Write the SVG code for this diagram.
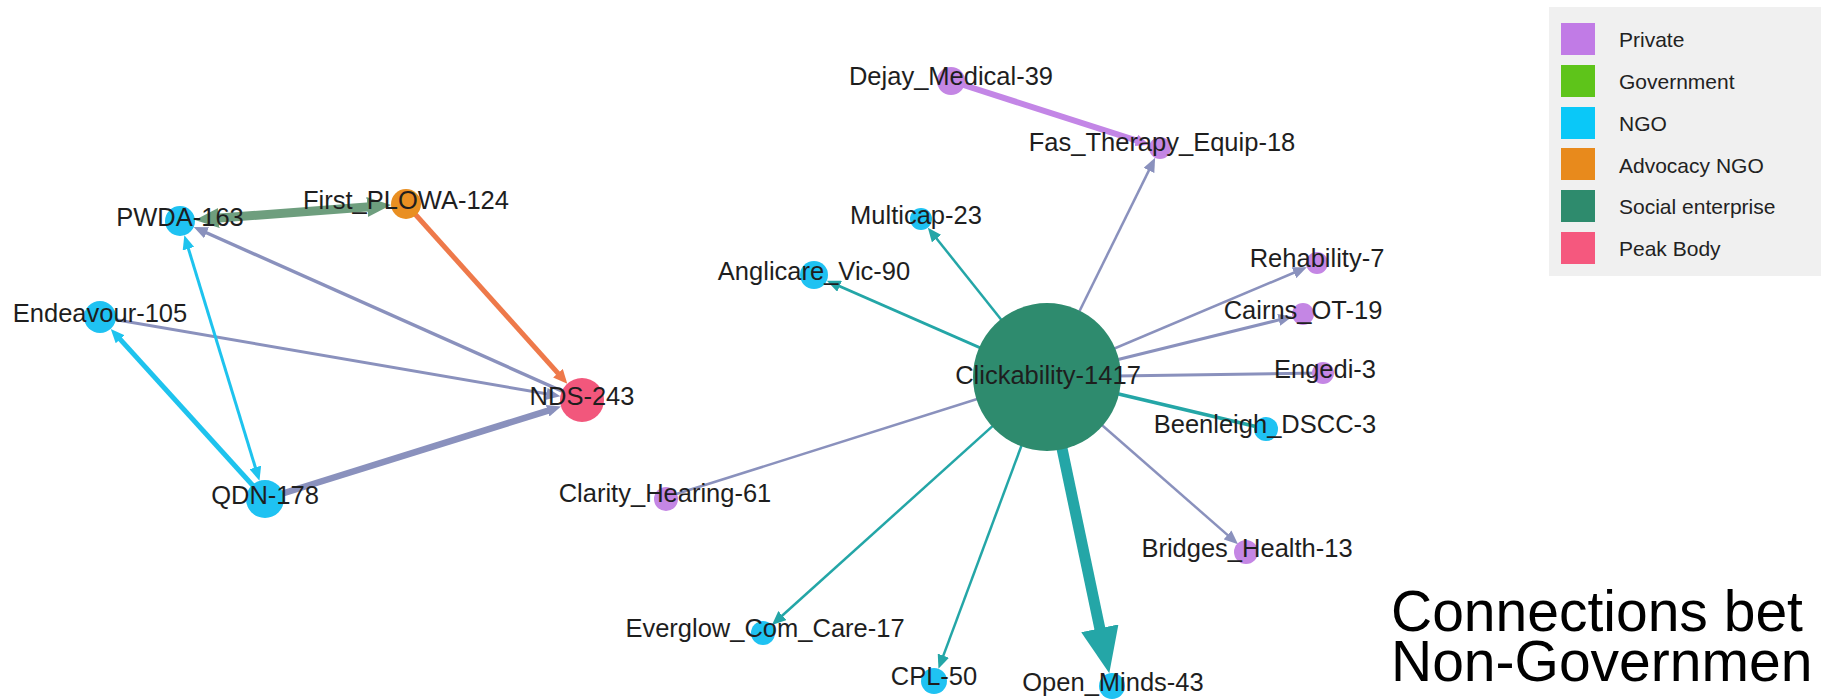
<svg xmlns="http://www.w3.org/2000/svg" width="1821" height="699" viewBox="0 0 1821 699">
<style>
.lbl{font-family:"Liberation Sans",Arial,sans-serif;font-size:25.5px;fill:#1e1e1e;text-anchor:middle}
.leg{font-family:"Liberation Sans",Arial,sans-serif;font-size:21px;fill:#222}
.title{font-family:"Liberation Sans",Arial,sans-serif;font-size:57px;fill:#000}
.e{fill:none;stroke-linecap:butt}
.gray{stroke:#8a91bd}
.teal{stroke:#24a6a7}
.cyan{stroke:#1ec3ee}
.green{stroke:#6e9e7e}
.orange{stroke:#ee794a}
.purple{stroke:#c386e6}
.private{fill:#c486e4}
.ngo{fill:#1fc2f2}
.adv{fill:#e98f22}
.social{fill:#2e8b6e}
.peak{fill:#f2577c}
</style>
<defs>
<marker id="ah-gray" markerUnits="userSpaceOnUse" markerWidth="14" markerHeight="12" refX="5.6" refY="6" orient="auto"><path d="M0,0 L14,6 L0,12 z" fill="#8a91bd"/></marker>
<marker id="ah-teal" markerUnits="userSpaceOnUse" markerWidth="14" markerHeight="12" refX="5.6" refY="6" orient="auto"><path d="M0,0 L14,6 L0,12 z" fill="#24a6a7"/></marker>
<marker id="ah-cyan" markerUnits="userSpaceOnUse" markerWidth="14" markerHeight="12" refX="5.6" refY="6" orient="auto-start-reverse"><path d="M0,0 L14,6 L0,12 z" fill="#1ec3ee"/></marker>
<marker id="ah-orange" markerUnits="userSpaceOnUse" markerWidth="14" markerHeight="13" refX="5.6" refY="6.5" orient="auto"><path d="M0,0 L14,6.5 L0,13 z" fill="#ee794a"/></marker>
<marker id="ah-purple" markerUnits="userSpaceOnUse" markerWidth="14" markerHeight="12" refX="5.6" refY="6" orient="auto"><path d="M0,0 L14,6 L0,12 z" fill="#c386e6"/></marker>
<marker id="ah-green" markerUnits="userSpaceOnUse" markerWidth="24" markerHeight="20" refX="9.6" refY="10" orient="auto-start-reverse"><path d="M0,0 L24,10 L0,20 z" fill="#6e9e7e"/></marker>
<marker id="ah-big" markerUnits="userSpaceOnUse" markerWidth="46" markerHeight="38" refX="18.4" refY="19" orient="auto"><path d="M0,0 L46,19 L0,38 z" fill="#24a6a7"/></marker>
</defs>
<rect width="1821" height="699" fill="#fff"/>

<g id="connectors">
<line class="e purple" stroke-width="6" x1="951" y1="81" x2="1141.5" y2="142.1" marker-end="url(#ah-purple)"/>
<line class="e gray" stroke-width="2.5" x1="1047" y1="377" x2="1151.4" y2="165.4" marker-end="url(#ah-gray)"/>
<line class="e teal" stroke-width="2.5" x1="1047" y1="377" x2="933.1" y2="234.2" marker-end="url(#ah-teal)"/>
<line class="e teal" stroke-width="3" x1="1047" y1="377" x2="834.5" y2="284" marker-end="url(#ah-teal)"/>
<line class="e gray" stroke-width="2.5" x1="1047" y1="377" x2="1299.1" y2="270.5" marker-end="url(#ah-gray)"/>
<line class="e gray" stroke-width="3" x1="1047" y1="377" x2="1284.2" y2="318.6" marker-end="url(#ah-gray)"/>
<line class="e gray" stroke-width="3" x1="1047" y1="377" x2="1320" y2="373"/>
<line class="e teal" stroke-width="3.5" x1="1047" y1="377" x2="1262" y2="428"/>
<line class="e gray" stroke-width="2.5" x1="1047" y1="377" x2="1231.7" y2="538.6" marker-end="url(#ah-gray)"/>
<line class="e gray" stroke-width="2.5" x1="1047" y1="377" x2="670" y2="496"/>
<line class="e teal" stroke-width="2.5" x1="1047" y1="377" x2="778.2" y2="619.3" marker-end="url(#ah-teal)"/>
<line class="e teal" stroke-width="2.5" x1="1047" y1="377" x2="941.4" y2="660.9" marker-end="url(#ah-teal)"/>
<line class="e teal" stroke-width="11" x1="1047" y1="377" x2="1103.6" y2="646.3" marker-end="url(#ah-big)"/>
<line class="e green" stroke-width="9" x1="209.3" y1="218.8" x2="376.7" y2="206.2" marker-start="url(#ah-green)" marker-end="url(#ah-green)"/>
<line class="e orange" stroke-width="5" x1="406" y1="204" x2="561.7" y2="377.4" marker-end="url(#ah-orange)"/>
<line class="e gray" stroke-width="3.5" x1="582" y1="400" x2="201.4" y2="230.5" marker-end="url(#ah-gray)"/>
<line class="e gray" stroke-width="3" x1="100" y1="317" x2="552.1" y2="394.8" marker-end="url(#ah-gray)"/>
<line class="e gray" stroke-width="6.5" x1="265" y1="499" x2="553" y2="409.1" marker-end="url(#ah-gray)"/>
<line class="e cyan" stroke-width="5" x1="265" y1="499" x2="116.4" y2="335.1" marker-end="url(#ah-cyan)"/>
<line class="e cyan" stroke-width="3" x1="257" y1="472.8" x2="186.8" y2="243.4" marker-start="url(#ah-cyan)" marker-end="url(#ah-cyan)"/>
</g>

<g id="node-pwda"><circle class="ngo" cx="180" cy="221" r="15"/><text class="lbl" x="180" y="226">PWDA-163</text></g>
<g id="node-first-plowa"><circle class="adv" cx="406" cy="204" r="15"/><text class="lbl" x="406" y="209">First_PLOWA-124</text></g>
<g id="node-endeavour"><circle class="ngo" cx="100" cy="317" r="16"/><text class="lbl" x="100" y="322">Endeavour-105</text></g>
<g id="node-nds"><circle class="peak" cx="582" cy="400" r="22"/><text class="lbl" x="582" y="405">NDS-243</text></g>
<g id="node-qdn"><circle class="ngo" cx="265" cy="499" r="19"/><text class="lbl" x="265" y="504">QDN-178</text></g>
<g id="node-dejay"><circle class="private" cx="951" cy="81" r="14"/><text class="lbl" x="951" y="85">Dejay_Medical-39</text></g>
<g id="node-fas"><circle class="private" cx="1160" cy="148" r="11"/><text class="lbl" x="1162" y="151">Fas_Therapy_Equip-18</text></g>
<g id="node-multicap"><circle class="ngo" cx="921" cy="219" r="11"/><text class="lbl" x="916" y="224">Multicap-23</text></g>
<g id="node-anglicare"><circle class="ngo" cx="814" cy="275" r="14"/><text class="lbl" x="814" y="280">Anglicare_Vic-90</text></g>
<g id="node-clickability"><circle class="social" cx="1047" cy="377" r="74"/><text class="lbl" x="1048" y="384">Clickability-1417</text></g>
<g id="node-rehability"><circle class="private" cx="1317" cy="263" r="11"/><text class="lbl" x="1317" y="267">Rehability-7</text></g>
<g id="node-cairns"><circle class="private" cx="1303" cy="314" r="11"/><text class="lbl" x="1303" y="319">Cairns_OT-19</text></g>
<g id="node-engedi"><circle class="private" cx="1323" cy="373" r="11"/><text class="lbl" x="1325" y="378">Engedi-3</text></g>
<g id="node-beenleigh"><circle class="ngo" cx="1266" cy="429" r="12"/><text class="lbl" x="1265" y="433">Beenleigh_DSCC-3</text></g>
<g id="node-bridges"><circle class="private" cx="1246" cy="552" r="12"/><text class="lbl" x="1247" y="557">Bridges_Health-13</text></g>
<g id="node-clarity"><circle class="private" cx="666" cy="499" r="12"/><text class="lbl" x="665" y="502">Clarity_Hearing-61</text></g>
<g id="node-everglow"><circle class="ngo" cx="763" cy="633" r="12"/><text class="lbl" x="765" y="637">Everglow_Com_Care-17</text></g>
<g id="node-cpl"><circle class="ngo" cx="934" cy="681" r="13"/><text class="lbl" x="934" y="685">CPL-50</text></g>
<g id="node-open-minds"><circle class="ngo" cx="1112" cy="686" r="13"/><text class="lbl" x="1113" y="691">Open_Minds-43</text></g>

<g id="legend">
<rect x="1549" y="7" width="272" height="269" fill="#f0f0f0"/>
<rect x="1561" y="23" width="34" height="32" fill="#c17be6"/>
<rect x="1561" y="65" width="34" height="32" fill="#5ec41a"/>
<rect x="1561" y="107" width="34" height="32" fill="#0ac8f8"/>
<rect x="1561" y="148" width="34" height="32" fill="#e88a1c"/>
<rect x="1561" y="190" width="34" height="32" fill="#2e8b6d"/>
<rect x="1561" y="232" width="34" height="32" fill="#f5587e"/>
<text class="leg" x="1619" y="47">Private</text>
<text class="leg" x="1619" y="89">Government</text>
<text class="leg" x="1619" y="131">NGO</text>
<text class="leg" x="1619" y="173">Advocacy NGO</text>
<text class="leg" x="1619" y="214">Social enterprise</text>
<text class="leg" x="1619" y="256">Peak Body</text>
</g>

<g id="title">
<text class="title" x="1391" y="631">Connections bet</text>
<text class="title" x="1391" y="681">Non-Governmen</text>
</g>
</svg>
